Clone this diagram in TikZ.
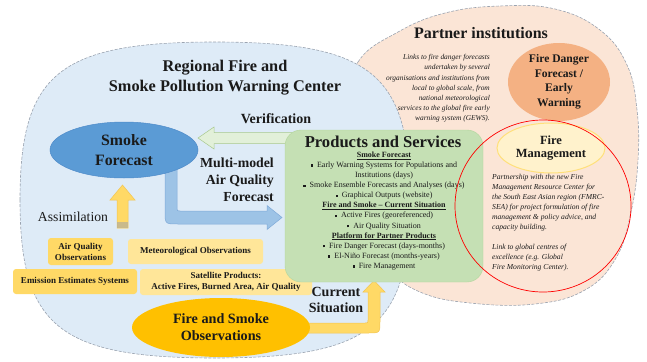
\documentclass[tikz,border=0pt]{standalone}
\usepackage{fontspec}
\setmainfont{Liberation Serif}
\usetikzlibrary{shapes.geometric}
\definecolor{bluebg}{HTML}{DEEBF7}
\definecolor{peach}{HTML}{FBE5D6}
\definecolor{smokeblue}{HTML}{5B9BD5}
\definecolor{smokeedge}{HTML}{4F8BC9}
\definecolor{psgreen}{HTML}{C5E0B4}
\definecolor{psedge}{HTML}{B3D69C}
\definecolor{verif}{HTML}{E2F0D9}
\definecolor{verifedge}{HTML}{A9C98E}
\definecolor{mmblue}{HTML}{9DC3E6}
\definecolor{mmedge}{HTML}{7FAAD8}
\definecolor{yel}{HTML}{FFD966}
\definecolor{yeledge}{HTML}{F2C552}
\definecolor{paleyel}{HTML}{FFE699}
\definecolor{gold}{HTML}{FFC000}
\definecolor{fdorange}{HTML}{F4B183}
\definecolor{fmfill}{HTML}{FFF2CC}
\definecolor{fmedge}{HTML}{FFE07A}
\definecolor{txt}{HTML}{1A1A1A}
\definecolor{dashgray}{HTML}{9AA3B0}
\newcommand{\fs}[2]{\fontsize{#1}{#2}\selectfont}
\newcommand{\bul}{\rule[0.8pt]{2.2pt}{2.2pt}\hspace{4pt}}
\begin{document}
\begin{tikzpicture}[x=1pt,y=-1pt,
  bigshape/.style={draw=dashgray, line width=0.6pt, dash pattern=on 3pt off 1.5pt},
  ybox/.style={rectangle, rounded corners=3pt, inner sep=0pt, text=txt, font=\bfseries\fs{9}{11}, align=center},
  ell/.style={ellipse, inner sep=0pt, text=txt, align=center},
  lbl/.style={text=txt, inner sep=0pt, align=center}
]
\useasboundingbox (0,0) rectangle (647,361);
% partner institutions region
\draw[bigshape, fill=peach] plot[smooth cycle, tension=0.7] coordinates {
 (346,112) (358,62) (398,32) (445,13) (500,6) (555,9) (600,30) (627,65)
 (637,110) (638,160) (631,212) (616,258) (585,290) (535,304) (470,303)
 (420,292) (388,268) (360,225) (345,165)};
% regional centre region
\draw[bigshape, fill=bluebg] (20,200) .. controls (20,73.6) and (59,42) .. (215,42)
  .. controls (371,42) and (410,73.6) .. (410,200)
  .. controls (410,326.4) and (371,358) .. (215,358)
  .. controls (59,358) and (20,326.4) .. (20,200) -- cycle;
% verification arrow
\draw[fill=verif, draw=verifedge, line width=0.5pt] (292,132.5) -- (214,132.5) -- (214,127) -- (198,138) -- (214,149) -- (214,143.5) -- (292,143.5) -- cycle;
% multi-model arrow
\draw[fill=mmblue, draw=mmedge, line width=0.5pt] (165,165) -- (165,211) .. controls (165,224) .. (178,224) -- (267,224) -- (267,229.5) -- (282,217.5) -- (267,205.5) -- (267,211) -- (180,211) .. controls (177,211) .. (177,208) -- (177,165) -- cycle;
% observation boxes
\node[ybox, fill=yel, minimum width=65pt, minimum height=27pt] (aqo) at (80.5,251.5) {Air Quality\\Observations};
\node[ybox, fill=paleyel, minimum width=135pt, minimum height=25pt] (met) at (195.5,251.5) {Meteorological Observations};
\node[ybox, fill=yel, minimum width=124pt, minimum height=25pt] (emi) at (75,281.5) {Emission Estimates Systems};
\node[ybox, fill=paleyel, minimum width=172pt, minimum height=26pt] (sat) at (226,282) {Satellite Products:\\Active Fires, Burned Area, Air Quality};
% assimilation arrow
\draw[fill=yel, draw=yeledge, line width=0.5pt] (117,228) -- (117,200) -- (110,200) -- (122.5,185) -- (135,200) -- (128,200) -- (128,228) -- cycle;
\fill[gray!70, opacity=0.6] (117.3,222) rectangle (127.7,227.7);
% current situation arrow
\draw[fill=yel, draw=yeledge, line width=0.5pt] (290,323) -- (365,323) .. controls (368,323) .. (368,320) -- (368,292) -- (363,292) -- (374,280.5) -- (385,292) -- (380,292) -- (380,321) .. controls (380,333) .. (368,333) -- (290,333) -- cycle;
% fire and smoke observations
\node[ell, fill=gold, minimum width=178pt, minimum height=59pt, font=\bfseries\fs{14.2}{17}] (fso) at (221,327.5) {Fire and Smoke\\Observations};
% products and services
\node[rectangle, rounded corners=16pt, fill=psgreen, draw=psedge, line width=0.4pt, minimum width=198pt, minimum height=152pt] (ps) at (384,206) {};
\node[lbl, font=\bfseries\fs{16.6}{19}] (pst) at (383,142) {Products and Services};
\node[lbl, font=\fs{8}{10.1}] (psb) at (384,211) {\underline{\textbf{Smoke Forecast}}\\
\bul Early Warning Systems for Populations and\\
Institutions (days)\\
\bul Smoke Ensemble Forecasts and Analyses (days)\\
\bul Graphical Outputs (website)\\
\underline{\textbf{Fire and Smoke -- Current Situation}}\\
\bul Active Fires (georeferenced)\\
\bul Air Quality Situation\\
\underline{\textbf{Platform for Partner Products}}\\
\bul Fire Danger Forecast (days-months)\\
\bul El-Niño Forecast (months-years)\\
\bul Fire Management};
% smoke forecast
\node[ell, fill=smokeblue, draw=smokeedge, line width=0.5pt, minimum width=148pt, minimum height=56pt, font=\bfseries\fs{15.8}{20}] (sf) at (124,150) {Smoke\\Forecast};
% partner ellipses
\node[ell, fill=fdorange, minimum width=102pt, minimum height=78pt, font=\bfseries\fs{11.6}{14.5}] (fd) at (559,82) {Fire Danger\\Forecast /\\Early\\Warning};
\node[ell, fill=fmfill, draw=fmedge, line width=1pt, minimum width=108pt, minimum height=50pt, font=\bfseries\fs{12.5}{13}] (fm) at (551,148) {Fire\\Management};
\node[ellipse, draw=red, line width=0.7pt, minimum width=176pt, minimum height=172pt] (rc) at (543,206) {};
% labels
\node[lbl, font=\bfseries\fs{16.3}{20}] (title) at (225,78) {Regional Fire and\\Smoke Pollution Warning Center};
\node[lbl, font=\bfseries\fs{16}{19}] (pi) at (481,33) {Partner institutions};
\node[lbl, font=\bfseries\fs{14}{17}] (ver) at (276,119) {Verification};
\node[lbl, align=right, anchor=east, font=\bfseries\fs{13.8}{17}] (mm) at (274,180) {Multi-model\\Air Quality\\Forecast};
\node[lbl, font=\fs{13.7}{16}] (asm) at (73,217) {Assimilation};
\node[lbl, font=\bfseries\fs{14}{16}] (cs) at (336,300) {Current\\Situation};
\node[lbl, align=right, anchor=east, font=\itshape\fs{7.4}{10.2}] (ptx) at (490,88.5) {Links to fire danger forecasts\\
undertaken by several\\
organisations and institutions from\\
local to global scale, from\\
national meteorological\\
services to the global fire early\\
warning system (GEWS).};
\node[lbl, align=left, anchor=west, font=\itshape\fs{7.6}{10}] (fmtx) at (492,223) {Partnership with the new Fire\\
Management Resource Center for\\
the South East Asian region (FMRC-\\
SEA) for project formulation of fire\\
management \& policy advice, and\\
capacity building.\\[10pt]
Link to global centres of\\
excellence (e.g. Global\\
Fire Monitoring Center).};
\end{tikzpicture}
\end{document}
